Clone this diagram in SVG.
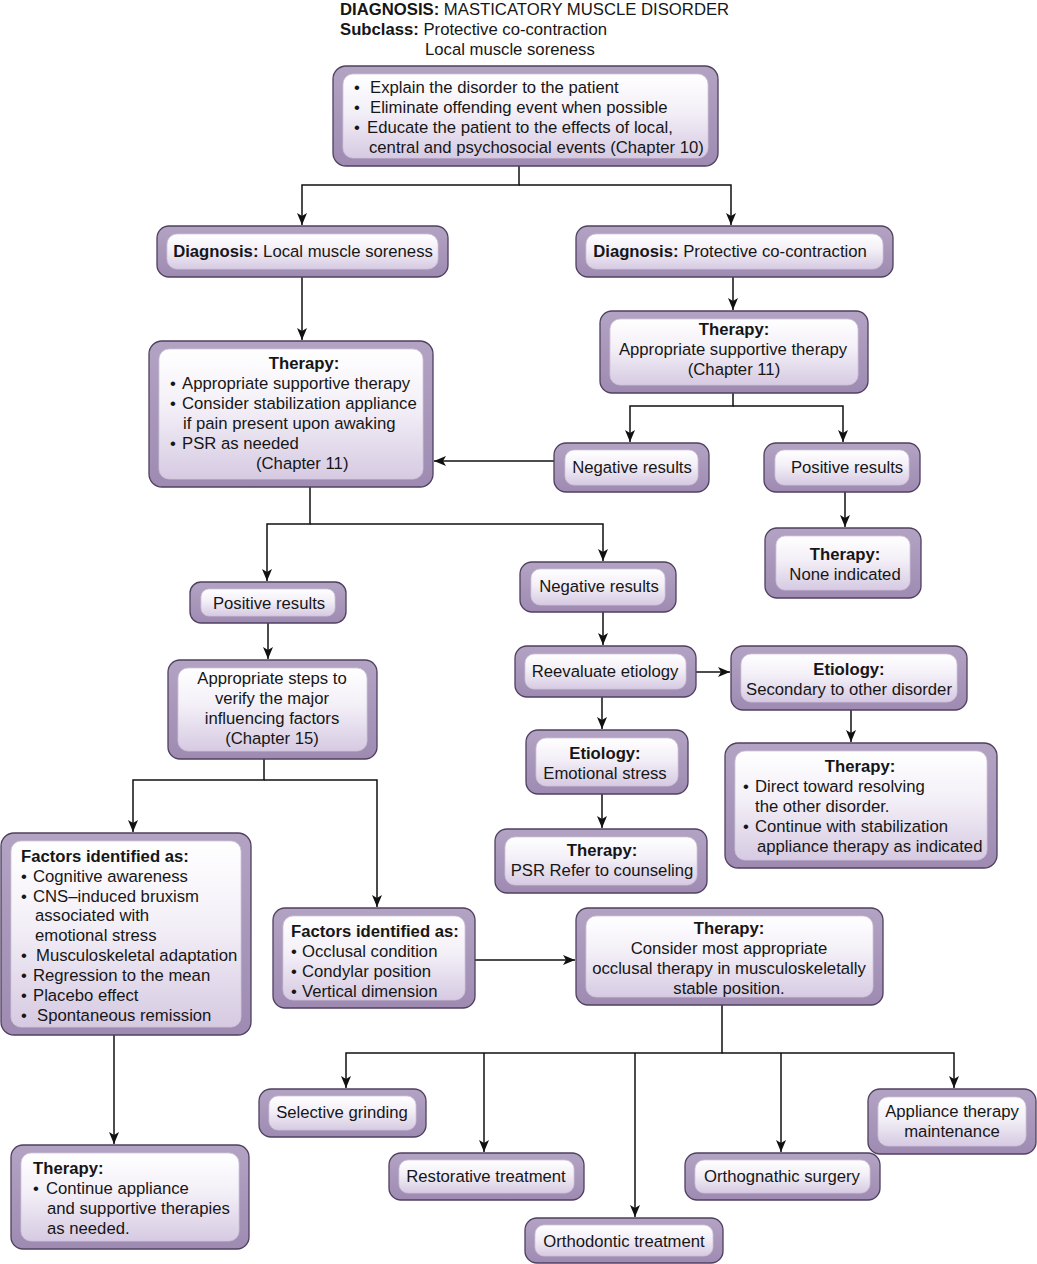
<svg xmlns="http://www.w3.org/2000/svg" width="1037" height="1264" viewBox="0 0 1037 1264">
<style>
.o{fill:url(#og);stroke:#4f4060;stroke-width:1.3}
.i{fill:url(#ig);stroke:#cfc4da;stroke-width:0.8}
text{font-family:"Liberation Sans",Arial,Helvetica,sans-serif;font-size:16.7px;fill:#161616}
.b{font-weight:bold}
.c{text-anchor:middle}
.l{fill:none;stroke:#111;stroke-width:1.5;marker-end:url(#ah)}
</style>
<defs>
<linearGradient id="og" x1="0" y1="0" x2="0" y2="1">
<stop offset="0" stop-color="#b3a3c3"/>
<stop offset="1" stop-color="#9f8bb2"/>
</linearGradient>
<linearGradient id="ig" x1="0" y1="0" x2="0" y2="1">
<stop offset="0" stop-color="#ffffff"/>
<stop offset="0.45" stop-color="#f3eff7"/>
<stop offset="1" stop-color="#d6cae2"/>
</linearGradient>
<marker id="ah" viewBox="0 0 12 10" refX="12" refY="5" markerWidth="12" markerHeight="10" markerUnits="userSpaceOnUse" orient="auto">
<path d="M0,0 L12,5 L0,10 L3,5 z" fill="#111"/>
</marker>
</defs>
<rect width="1037" height="1264" fill="#fff"/>

<g id="header">
<text x="340" y="15"><tspan class="b">DIAGNOSIS:</tspan> MASTICATORY MUSCLE DISORDER</text>
<text x="340" y="35"><tspan class="b">Subclass:</tspan>  Protective co-contraction</text>
<text x="425" y="55">Local muscle soreness</text>
</g>

<g id="connectors">
<path class="l" d="M519,166 V185 H302 V225"/>
<path class="l" d="M519,185 H731 V225"/>
<path class="l" d="M302,277 V340"/>
<path class="l" d="M733,277 V310"/>
<path class="l" d="M733,393 V406 H630 V442"/>
<path class="l" d="M733,406 H843 V442"/>
<path class="l" d="M554,461 H434"/>
<path class="l" d="M845,492 V527"/>
<path class="l" d="M310,487 V524 H267 V581"/>
<path class="l" d="M310,524 H603 V561"/>
<path class="l" d="M268,623 V659"/>
<path class="l" d="M603,612 V645"/>
<path class="l" d="M696,672 H730"/>
<path class="l" d="M602,697 V729"/>
<path class="l" d="M851,710 V742"/>
<path class="l" d="M602,794 V828"/>
<path class="l" d="M264,759 V780 H133 V832"/>
<path class="l" d="M264,780 H377 V907"/>
<path class="l" d="M114,1035 V1144"/>
<path class="l" d="M475,960 H575"/>
<path class="l" d="M722,1005 V1053 H346 V1088"/>
<path class="l" d="M722,1053 H954 V1088"/>
<path class="l" d="M484,1053 V1152"/>
<path class="l" d="M635,1053 V1217"/>
<path class="l" d="M781,1053 V1152"/>
</g>

<g id="n-top">
<rect class="o" x="333" y="66" width="385" height="100" rx="13"/>
<rect class="i" x="343" y="74" width="365" height="84" rx="10"/>
<text x="354" y="93">•</text><text x="370" y="93">Explain the disorder to the patient</text>
<text x="354" y="113">•</text><text x="370" y="113">Eliminate offending event when possible</text>
<text x="354" y="133">•</text><text x="367" y="133">Educate the patient to the effects of local,</text>
<text x="369" y="153">central and psychosocial events (Chapter 10)</text>
</g>

<g id="n-diag-lms">
<rect class="o" x="157" y="226" width="291" height="51" rx="12"/>
<rect class="i" x="167" y="234" width="271" height="35" rx="10"/>
<text class="c" x="303" y="257"><tspan class="b">Diagnosis:</tspan> Local muscle soreness</text>
</g>

<g id="n-diag-pcc">
<rect class="o" x="576" y="226" width="317" height="51" rx="12"/>
<rect class="i" x="586" y="234" width="297" height="35" rx="10"/>
<text class="c" x="730" y="257"><tspan class="b">Diagnosis:</tspan> Protective co-contraction</text>
</g>

<g id="n-therapy-right">
<rect class="o" x="600" y="311" width="268" height="82" rx="12"/>
<rect class="i" x="610" y="319" width="248" height="66" rx="10"/>
<text class="c b" x="734" y="335">Therapy:</text>
<text class="c" x="733" y="355">Appropriate supportive therapy</text>
<text class="c" x="734" y="375">(Chapter 11)</text>
</g>

<g id="n-therapy-left">
<rect class="o" x="149" y="341" width="284" height="146" rx="13"/>
<rect class="i" x="159" y="349" width="264" height="130" rx="10"/>
<text class="c b" x="304" y="369">Therapy:</text>
<text x="170" y="389">•</text><text x="182" y="389">Appropriate supportive therapy</text>
<text x="170" y="409">•</text><text x="182" y="409">Consider stabilization appliance</text>
<text x="183" y="429">if pain present upon awaking</text>
<text x="170" y="449">•</text><text x="182" y="449">PSR as needed</text>
<text x="256" y="469">(Chapter 11)</text>
</g>

<g id="n-neg-right">
<rect class="o" x="554" y="443" width="155" height="49" rx="12"/>
<rect class="i" x="565" y="450" width="133" height="35" rx="9"/>
<text class="c" x="632" y="473">Negative results</text>
</g>

<g id="n-pos-right">
<rect class="o" x="764" y="443" width="156" height="49" rx="12"/>
<rect class="i" x="775" y="450" width="134" height="35" rx="9"/>
<text class="c" x="847" y="473">Positive results</text>
</g>

<g id="n-none">
<rect class="o" x="765" y="528" width="156" height="70" rx="12"/>
<rect class="i" x="776" y="536" width="134" height="54" rx="9"/>
<text class="c b" x="845" y="560">Therapy:</text>
<text class="c" x="845" y="580">None indicated</text>
</g>

<g id="n-pos-left">
<rect class="o" x="190" y="582" width="156" height="41" rx="11"/>
<rect class="i" x="201" y="589" width="134" height="27" rx="8"/>
<text class="c" x="269" y="609">Positive results</text>
</g>

<g id="n-neg-mid">
<rect class="o" x="520" y="562" width="156" height="50" rx="12"/>
<rect class="i" x="531" y="569" width="134" height="36" rx="9"/>
<text class="c" x="599" y="592">Negative results</text>
</g>

<g id="n-steps">
<rect class="o" x="168" y="660" width="209" height="99" rx="12"/>
<rect class="i" x="178" y="668" width="189" height="83" rx="10"/>
<text class="c" x="272" y="684">Appropriate steps to</text>
<text class="c" x="272" y="704">verify the major</text>
<text class="c" x="272" y="724">influencing factors</text>
<text class="c" x="272" y="744">(Chapter 15)</text>
</g>

<g id="n-reevaluate">
<rect class="o" x="515" y="646" width="181" height="51" rx="12"/>
<rect class="i" x="525" y="654" width="161" height="35" rx="9"/>
<text class="c" x="605" y="677">Reevaluate etiology</text>
</g>

<g id="n-etio-secondary">
<rect class="o" x="731" y="646" width="236" height="64" rx="12"/>
<rect class="i" x="741" y="654" width="216" height="48" rx="10"/>
<text class="c b" x="849" y="675">Etiology:</text>
<text class="c" x="849" y="695">Secondary to other disorder</text>
</g>

<g id="n-etio-emotional">
<rect class="o" x="526" y="730" width="162" height="64" rx="12"/>
<rect class="i" x="536" y="738" width="142" height="48" rx="10"/>
<text class="c b" x="605" y="759">Etiology:</text>
<text class="c" x="605" y="779">Emotional stress</text>
</g>

<g id="n-therapy-direct">
<rect class="o" x="725" y="743" width="272" height="125" rx="13"/>
<rect class="i" x="735" y="751" width="252" height="109" rx="10"/>
<text class="c b" x="860" y="772">Therapy:</text>
<text x="743" y="792">•</text><text x="755" y="792">Direct toward resolving</text>
<text x="755" y="812">the other disorder.</text>
<text x="743" y="832">•</text><text x="755" y="832">Continue with stabilization</text>
<text x="757" y="852">appliance therapy as indicated</text>
</g>

<g id="n-therapy-psr">
<rect class="o" x="495" y="829" width="212" height="64" rx="12"/>
<rect class="i" x="505" y="837" width="192" height="48" rx="10"/>
<text class="c b" x="602" y="856">Therapy:</text>
<text class="c" x="602" y="876">PSR Refer to counseling</text>
</g>

<g id="n-factors-left">
<rect class="o" x="1" y="833" width="250" height="202" rx="13"/>
<rect class="i" x="11" y="841" width="230" height="186" rx="10"/>
<text class="b" x="21" y="862">Factors identified as:</text>
<text x="21" y="882">•</text><text x="33" y="882">Cognitive awareness</text>
<text x="21" y="902">•</text><text x="33" y="902">CNS–induced bruxism</text>
<text x="35" y="921">associated with</text>
<text x="35" y="941">emotional stress</text>
<text x="21" y="961">•</text><text x="36" y="961">Musculoskeletal adaptation</text>
<text x="21" y="981">•</text><text x="33" y="981">Regression to the mean</text>
<text x="21" y="1001">•</text><text x="33" y="1001">Placebo effect</text>
<text x="21" y="1021">•</text><text x="37" y="1021">Spontaneous remission</text>
</g>

<g id="n-factors-mid">
<rect class="o" x="273" y="908" width="202" height="100" rx="12"/>
<rect class="i" x="283" y="916" width="182" height="84" rx="10"/>
<text class="b" x="291" y="937">Factors identified as:</text>
<text x="291" y="957">•</text><text x="302" y="957">Occlusal condition</text>
<text x="291" y="977">•</text><text x="302" y="977">Condylar position</text>
<text x="291" y="997">•</text><text x="302" y="997">Vertical dimension</text>
</g>

<g id="n-therapy-consider">
<rect class="o" x="576" y="908" width="307" height="97" rx="12"/>
<rect class="i" x="586" y="916" width="287" height="81" rx="10"/>
<text class="c b" x="729" y="934">Therapy:</text>
<text class="c" x="729" y="954">Consider most appropriate</text>
<text class="c" x="729" y="974">occlusal therapy in musculoskeletally</text>
<text class="c" x="729" y="994">stable position.</text>
</g>

<g id="n-therapy-continue">
<rect class="o" x="11" y="1145" width="238" height="104" rx="12"/>
<rect class="i" x="21" y="1153" width="218" height="88" rx="10"/>
<text class="b" x="33" y="1174">Therapy:</text>
<text x="33" y="1194">•</text><text x="46" y="1194">Continue appliance</text>
<text x="47" y="1214">and supportive therapies</text>
<text x="47" y="1234">as needed.</text>
</g>

<g id="n-selective">
<rect class="o" x="259" y="1089" width="167" height="48" rx="12"/>
<rect class="i" x="269" y="1096" width="147" height="34" rx="9"/>
<text class="c" x="342" y="1118">Selective grinding</text>
</g>

<g id="n-restorative">
<rect class="o" x="389" y="1153" width="195" height="47" rx="12"/>
<rect class="i" x="399" y="1160" width="175" height="33" rx="9"/>
<text class="c" x="486" y="1182">Restorative treatment</text>
</g>

<g id="n-orthodontic">
<rect class="o" x="525" y="1218" width="198" height="45" rx="12"/>
<rect class="i" x="535" y="1225" width="178" height="31" rx="9"/>
<text class="c" x="624" y="1247">Orthodontic treatment</text>
</g>

<g id="n-orthognathic">
<rect class="o" x="685" y="1153" width="195" height="47" rx="12"/>
<rect class="i" x="695" y="1160" width="175" height="33" rx="9"/>
<text class="c" x="782" y="1182">Orthognathic surgery</text>
</g>

<g id="n-appliance">
<rect class="o" x="868" y="1089" width="168" height="65" rx="12"/>
<rect class="i" x="878" y="1097" width="148" height="49" rx="10"/>
<text class="c" x="952" y="1117">Appliance therapy</text>
<text class="c" x="952" y="1137">maintenance</text>
</g>
</svg>
